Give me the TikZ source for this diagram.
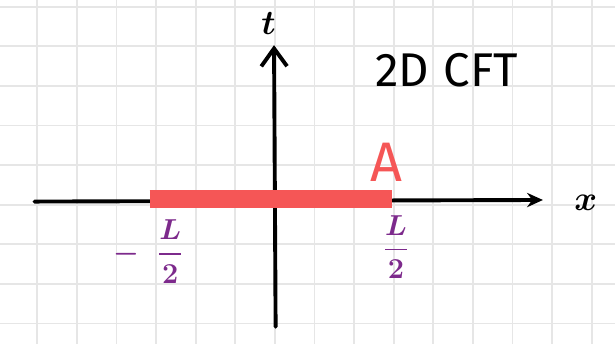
\documentclass[tikz,border=0pt]{standalone}
\usepackage{amsmath}
\usepackage{fontspec}
\setmainfont{Fira Sans}
\usetikzlibrary{arrows.meta}
\definecolor{sketchred}{HTML}{F55656}
\definecolor{sketchpurple}{HTML}{7D2A8C}
\definecolor{gridgray}{HTML}{E6E6E6}

\begin{document}
\begin{tikzpicture}[every node/.style={inner sep=0pt},
	axis/.style={line width=2.8pt, line cap=round},
	endlabel/.style={sketchpurple, font=\fontsize{20}{24}\selectfont\boldmath},
	>={Stealth[length=4mm, width=3.6mm]}]
	\useasboundingbox (-6.94,-3.52) rectangle (8.59,5.17);
	\fill[white] (-6.94,-3.52) rectangle (8.59,5.17);
	\draw[gridgray, line width=1.3pt] (-6.94,-3.52) grid (8.59,5.17);
	% axes
	\coordinate (xstart) at (-6.07,0.08);
	\coordinate (xend) at (6.77,0.12);
	\coordinate (tstart) at (0.02,-3.08);
	\coordinate (tend) at (-0.02,4.03);
	\draw[axis, ->] (xstart) -- (xend);
	\draw[axis, -{Straight Barb[length=4.5mm, width=6.5mm, line width=2.8pt]}] (tstart) -- (tend);
	\node[font=\fontsize{28}{32}\selectfont\boldmath] (tlab) at (-0.16,4.58) {$t$};
	\node[font=\fontsize{32}{36}\selectfont\boldmath] (xlab) at (7.85,0.04) {$x$};
	% interval A
	\coordinate (aleft) at (-3.16,0.14);
	\coordinate (aright) at (2.95,0.14);
	\draw[sketchred, line width=13pt] (aleft) -- (aright);
	\node[sketchred, font=\fontsize{40}{44}\selectfont] (alab) at (2.83,1.07) {A};
	\node[endlabel] (lleft) at (-3.2,-1.18) {$-\;\;\dfrac{L}{2}$};
	\node[endlabel] (lright) at (3.06,-1.07) {$\dfrac{L}{2}$};
	\node[font=\fontsize{34}{38}\selectfont] (title) at (4.34,3.40) {2D\hspace{0.3em}CFT};
\end{tikzpicture}
\end{document}
